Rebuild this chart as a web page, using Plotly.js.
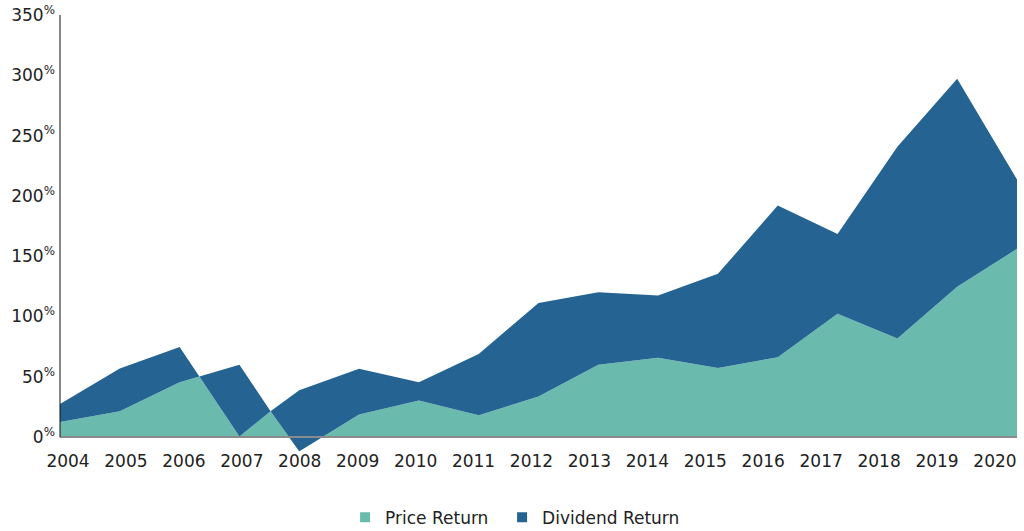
<!DOCTYPE html>
<html>
<head>
<meta charset="utf-8">
<script src="https://cdn.plot.ly/plotly-3.0.1.min.js"></script>
<style>html,body{margin:0;padding:0;background:#fff;}#chart{width:1024px;height:531px;}</style>
</head>
<body>
<div id="chart"></div>
<script>
// Vertices (x in years; two crossing points included)
const xPoints = [2004, 2005, 2006, 2006.33, 2007, 2007.52, 2008, 2009, 2010, 2011, 2012, 2013, 2014, 2015, 2016, 2017, 2018, 2019, 2020];
const priceReturn = [12.6, 21.4, 45.5, 50.2, 0.5, 21.4, -11.8, 18.7, 30.3, 18.1, 33.7, 60.1, 65.9, 57.4, 66.2, 102.2, 81.7, 124.6, 156.1];
const dividendReturn = [27.5, 56.8, 74.8, 50.2, 59.9, 21.4, 38.8, 56.6, 45.5, 69.0, 111.3, 120.1, 117.4, 135.4, 192.0, 168.5, 240.7, 297.1, 213.6];
const yearLabels = ['2004','2005','2006','2007','2008','2009','2010','2011','2012','2013','2014','2015','2016','2017','2018','2019','2020'];
const yTickValues = [0, 50, 100, 150, 200, 250, 300, 350];
const seriesNames = ['Price Return', 'Dividend Return'];
const seriesColors = ['#6BBAAE', '#246392'];

const FONT = 'DejaVu Sans, sans-serif';
const yearNums = yearLabels.map(Number);

const traces = [
  {x: xPoints, y: priceReturn, mode: 'lines', fill: 'tozeroy', fillcolor: seriesColors[0],
   line: {width: 0, color: seriesColors[0]}, showlegend: false, hoverinfo: 'skip'},
  {x: xPoints, y: dividendReturn, mode: 'lines', fill: 'tonexty', fillcolor: seriesColors[1],
   line: {width: 0, color: seriesColors[1]}, showlegend: false, hoverinfo: 'skip'},
  {x: [null], y: [null], xaxis: 'x2', mode: 'markers', name: seriesNames[0], legendwidth: 112,
   marker: {symbol: 'square', size: 10, color: seriesColors[0]}},
  {x: [null], y: [null], xaxis: 'x2', mode: 'markers', name: seriesNames[1],
   marker: {symbol: 'square', size: 10, color: seriesColors[1]}}
];

const yMin = -14, yMax = 350;
const layout = {
  width: 1024, height: 531,
  margin: {l: 60, r: 7, t: 15, b: 77},
  paper_bgcolor: '#fff', plot_bgcolor: '#fff',
  font: {family: FONT, size: 17, color: '#222'},
  showlegend: true,
  legend: {orientation: 'h', traceorder: 'normal', xref: 'container', yref: 'container', x: 0.337, y: 0.025,
           xanchor: 'left', yanchor: 'middle',
           font: {family: FONT, size: 17, color: '#222'}},
  xaxis: {range: [2004, 2020], showgrid: false, zeroline: false, showline: false,
          showticklabels: false, ticks: '', fixedrange: true},
  xaxis2: {overlaying: 'x', anchor: 'free', position: (0 - yMin) / (yMax - yMin),
           range: [2003.862, 2020.38], tickmode: 'array', tickvals: yearNums, ticktext: yearLabels,
           showgrid: false, zeroline: false, showline: true, linecolor: '#8a8a8a', linewidth: 2,
           ticks: '', ticklabelstandoff: 8, tickfont: {family: FONT, size: 17, color: '#222'}, fixedrange: true},
  yaxis: {range: [yMin, yMax], tickmode: 'array', tickvals: yTickValues,
          ticktext: yTickValues.map(v => v + '<sup>%</sup>'),
          showgrid: false, zeroline: false, showline: false, ticks: '', ticklabelstandoff: 4,
          tickfont: {family: FONT, size: 17, color: '#222'}, fixedrange: true},
  shapes: [
    {type: 'line', xref: 'paper', yref: 'y', x0: 0, x1: 0, y0: 0, y1: yMax,
     line: {color: '#111', width: 1}, layer: 'above'}
  ]
};

Plotly.newPlot('chart', traces, layout, {staticPlot: true, displayModeBar: false});
</script>
</body>
</html>
